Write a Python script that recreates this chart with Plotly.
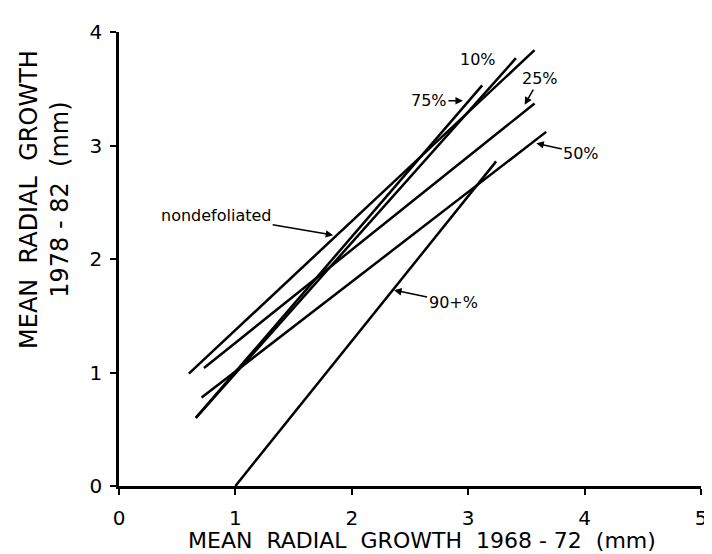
import plotly.graph_objects as go

# Regression lines: (x_start, y_start) -> (x_end, y_end)
series_names = ["nondefoliated", "10%", "25%", "50%", "75%", "90+%"]
x_start = [0.60, 0.66, 0.73, 0.71, 0.66, 1.00]
y_start = [0.99, 0.60, 1.04, 0.78, 0.60, 0.00]
x_end = [3.57, 3.41, 3.57, 3.67, 3.12, 3.24]
y_end = [3.84, 3.77, 3.37, 3.12, 3.53, 2.86]

# Label annotations: arrow head location (data) and text offset (px)
label_text = ["nondefoliated", "10%", "25%", "50%", "75%", "90+%"]
label_head_x = [1.84, 3.24, 3.485, 3.585, 2.955, 2.363]
label_head_y = [2.21, 3.65, 3.36, 3.02, 3.395, 1.725]
label_ax = [-117, -18, 15, 45, -34, 59]
label_ay = [-20, -12, -26, 10, 0, 12]

x_ticks = [0, 1, 2, 3, 4, 5]
y_ticks = [0, 1, 2, 3, 4]

FONT = "DejaVu Sans"

fig = go.Figure()
for i, name in enumerate(series_names):
    fig.add_trace(go.Scatter(
        x=[x_start[i], x_end[i]], y=[y_start[i], y_end[i]],
        mode="lines", name=name,
        line=dict(color="black", width=2.5),
        showlegend=False, cliponaxis=False,
    ))

for i, t in enumerate(label_text):
    fig.add_annotation(
        x=label_head_x[i], y=label_head_y[i], xref="x", yref="y",
        text=t, showarrow=True, ax=label_ax[i], ay=label_ay[i],
        arrowhead=2, arrowsize=1, arrowwidth=1.5, arrowcolor="black",
        font=dict(family=FONT, size=16, color="black"),
    )

# y-axis title (two lines)
fig.add_annotation(
    xref="paper", yref="y", x=0, y=2.52, xanchor="center", yanchor="middle",
    xshift=-74, textangle=-90, showarrow=False,
    text="MEAN  RADIAL  GROWTH<br>1978 - 82  (mm)",
    font=dict(family=FONT, size=24, color="black"),
)

# x-axis title
fig.add_annotation(
    xref="x", yref="paper", x=2.6, y=0, xanchor="center", yanchor="middle",
    yshift=-54, showarrow=False,
    text="MEAN  RADIAL  GROWTH  1968 - 72  (mm)",
    font=dict(family=FONT, size=22, color="black"),
)

fig.update_layout(
    width=712, height=554,
    margin=dict(l=111, r=19, t=15, b=76),
    paper_bgcolor="white", plot_bgcolor="white",
    font=dict(family=FONT, color="black"),
    xaxis=dict(
        range=[0, 5], tickvals=x_ticks, ticktext=[str(v) for v in x_ticks],
        showgrid=False, zeroline=False, showline=True, linecolor="black",
        linewidth=2.5, ticks="outside", ticklen=6, tickwidth=2,
        tickcolor="black", tickfont=dict(family=FONT, size=20),
        ticklabelstandoff=6,
    ),
    yaxis=dict(
        range=[0, 4], tickvals=y_ticks, ticktext=[str(v) for v in y_ticks],
        showgrid=False, zeroline=False, showline=True, linecolor="black",
        linewidth=2.5, ticks="outside", ticklen=6, tickwidth=2,
        tickcolor="black", tickfont=dict(family=FONT, size=20),
        ticklabelstandoff=4,
    ),
)

fig.write_html("out.html")
